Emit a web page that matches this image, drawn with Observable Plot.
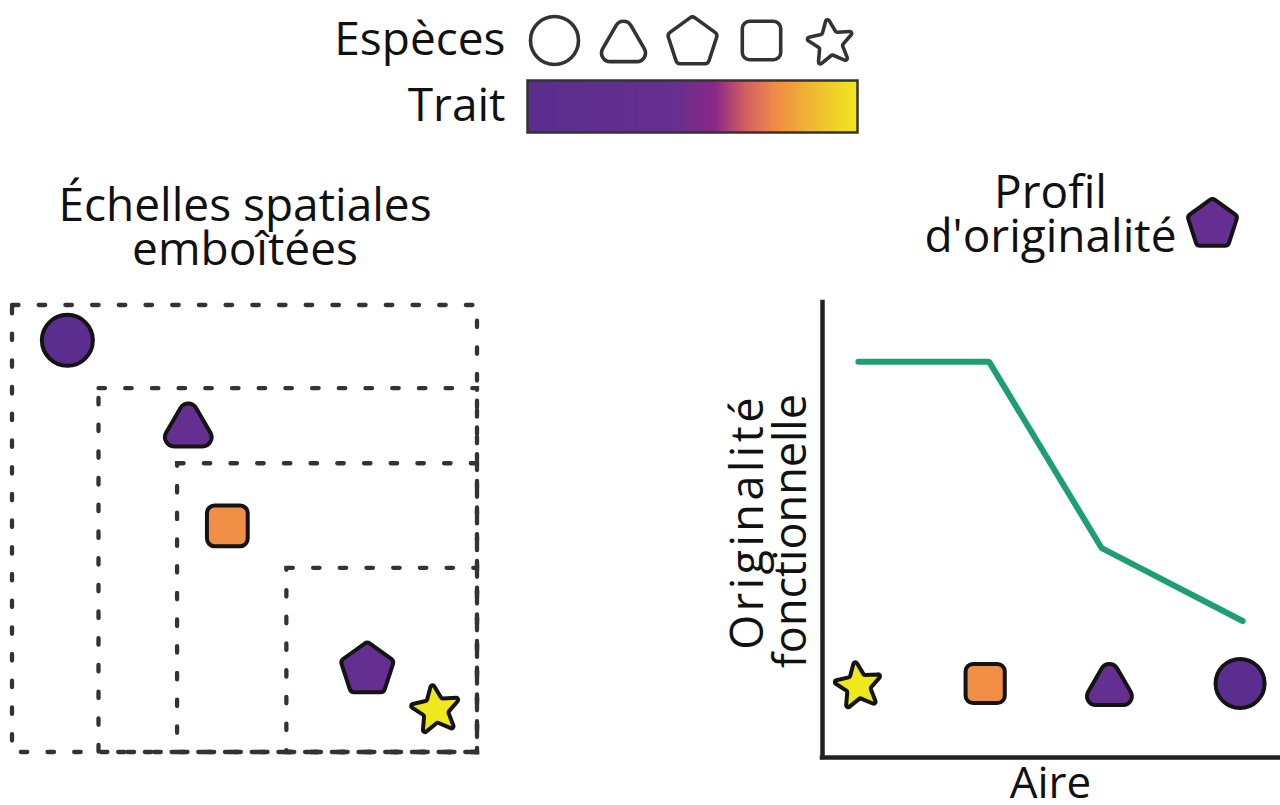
<!DOCTYPE html>
<html>
<head>
<meta charset="utf-8">
<script src="https://cdn.jsdelivr.net/npm/d3@7"></script>
<script src="https://cdn.jsdelivr.net/npm/@observablehq/plot@0.6"></script>
<style>
html, body { margin: 0; padding: 0; background: #fff; }
#chart { position: relative; width: 1280px; height: 805px; overflow: hidden; font-family: 'Open Sans', sans-serif; }
#chart > div { position: absolute; }
#chart svg { overflow: visible; }
</style>
</head>
<body>
<div id="chart"></div>
<script>
// ---------- Données ----------
const especes = ["cercle", "triangle", "pentagone", "carré", "étoile"];
const traitValeurs = [0.0, 0.38, 0.36, 0.76, 1.0];
const traitStops = [0, 0.45, 0.57, 0.66, 0.75, 0.88, 1];
const traitCouleurs = ["#5a2d8e", "#662f91", "#8a2887", "#cf5f62", "#f08a48", "#f1bd30", "#efe81d"];

// Position des espèces dans l'espace (unités 0–100)
const espaceX = [11.8, 37.8, 76.3, 46.2, 91.0];
const espaceY = [92.2, 73.5, 19.0, 50.7, 10.1];

// Échelles spatiales emboîtées (unités 0–100)
const echelleNom = ["échelle 1", "échelle 2", "échelle 3", "échelle 4"];
const echelleX1 = [0, 18.6, 35.5, 59.0];
const echelleX2 = [100, 100, 100, 100];
const echelleY1 = [0, 0, 0, 0];
const echelleY2 = [100, 81.4, 64.6, 41.2];

// Profil d'originalité de l'espèce focale
const especeFocale = "pentagone";
const profilEspeces = ["étoile", "carré", "triangle", "cercle"];
const profilAireEspece = [1, 1.99, 2.96, 3.98];
const profilAire = [1, 2.02, 2.9, 4.0];
const profilOriginalite = [0.87, 0.87, 0.46, 0.30];
const aireDomaine = [0.72, 4.28];
const originaliteDomaine = [0, 1];

const titreEspeces = "Espèces";
const titreTrait = "Trait";
const titreGauche = "Échelles spatiales\nemboîtées";
const titreDroite = "Profil\nd'originalité";
const labelY = "Originalité\nfonctionnelle";
const labelX = "Aire";

// ---------- Symboles personnalisés ----------
function polygone(n, R, rot, dy) {
  return Array.from({length: n}, (_, i) => {
    const a = rot + 2 * Math.PI * i / n;
    return [R * Math.sin(a), -R * Math.cos(a) + dy];
  });
}
function polygoneArrondi(ctx, pts, rad) {
  const n = pts.length;
  ctx.moveTo((pts[n - 1][0] + pts[0][0]) / 2, (pts[n - 1][1] + pts[0][1]) / 2);
  for (let i = 0; i < n; ++i) {
    const p = pts[i], q = pts[(i + 1) % n];
    ctx.arcTo(p[0], p[1], q[0], q[1], rad);
  }
  ctx.closePath();
}
const rayon = (size) => Math.sqrt(size / Math.PI);
const symCercle = {draw(ctx, size) { const r = rayon(size); ctx.moveTo(r, 0); ctx.arc(0, 0, r, 0, 2 * Math.PI); ctx.closePath(); }};
const symTriangle = {draw(ctx, size) { const r = rayon(size); polygoneArrondi(ctx, polygone(3, 1.36 * r, 0, 0.2 * r), 0.36 * r); }};
const symPentagone = {draw(ctx, size) { const r = rayon(size); polygoneArrondi(ctx, polygone(5, 1.1 * r, 0, 0.08 * r), 0.18 * r); }};
const symCarre = {draw(ctx, size) { const r = rayon(size), h = 0.8 * r; polygoneArrondi(ctx, [[-h, -h], [h, -h], [h, h], [-h, h]], 0.3 * r); }};
const symEtoile = {draw(ctx, size) {
  const r = rayon(size);
  const pts = Array.from({length: 10}, (_, i) => {
    const R = i % 2 ? 0.5 * r : 1.1 * r;
    const a = -0.14 + Math.PI * i / 5;
    return [R * Math.sin(a), -R * Math.cos(a) + 0.1 * r];
  });
  polygoneArrondi(ctx, pts, 0.08 * r);
}};
const symboles = [symCercle, symTriangle, symPentagone, symCarre, symEtoile];

const symbolScale = {domain: especes, range: symboles};
const colorScale = {type: "linear", domain: traitStops, range: traitCouleurs, interpolate: "rgb"};
const traitDe = new Map(especes.map((e, i) => [e, traitValeurs[i]]));
const police = "'Open Sans', 'Noto Sans', sans-serif";
const style = {fontFamily: police, background: "transparent", overflow: "visible"};
const encre = "#141414";

const chart = document.getElementById("chart");
function place(svg, left, top) {
  const d = document.createElement("div");
  d.style.left = left + "px";
  d.style.top = top + "px";
  d.appendChild(svg);
  chart.appendChild(d);
  return svg;
}

// ---------- Légende espèces ----------
place(Plot.plot({
  width: 560, height: 80, marginTop: 0, marginBottom: 0, marginLeft: 233, marginRight: 50,
  style,
  x: {type: "point", domain: especes, padding: 0, axis: null},
  symbol: symbolScale,
  marks: [
    Plot.dot(especes, {x: d => d, symbol: d => d, r: 24, fill: "white", stroke: "#333", strokeWidth: 3.6, strokeLinejoin: "round"}),
    Plot.text([titreEspeces], {frameAnchor: "left", textAnchor: "end", dx: -48, fontSize: 46, fill: "#111"})
  ]
}), 320, 0);

// ---------- Légende trait (rampe) ----------
const pas = 1 / 330;
const rampe = Array.from({length: 330}, (_, i) => i * pas);
place(Plot.plot({
  width: 560, height: 72, marginTop: 10, marginBottom: 10, marginLeft: 207, marginRight: 23,
  style,
  x: {domain: [0, 1], axis: null},
  color: colorScale,
  marks: [
    Plot.rect(rampe, {x1: d => d, x2: d => d + pas * 1.5, fill: d => d + pas / 2, shapeRendering: "crispEdges"}),
    Plot.frame({stroke: "#333", strokeWidth: 2.5}),
    Plot.text([titreTrait], {frameAnchor: "left", textAnchor: "end", dx: -22, fontSize: 46, fill: "#111"})
  ]
}), 320, 70);

// ---------- Panneau gauche : échelles emboîtées ----------
const echelles = echelleNom.map((nom, i) => ({nom, x1: echelleX1[i], x2: echelleX2[i], y1: echelleY1[i], y2: echelleY2[i]}));
const positions = especes.map((e, i) => ({espece: e, x: espaceX[i], y: espaceY[i], trait: traitValeurs[i]}));
place(Plot.plot({
  width: 490, height: 645, marginLeft: 12, marginRight: 13, marginTop: 145, marginBottom: 53,
  style,
  x: {domain: [0, 100], axis: null},
  y: {domain: [0, 100], axis: null},
  color: colorScale,
  symbol: symbolScale,
  marks: [
    Plot.rect(echelles, {x1: "x1", x2: "x2", y1: "y1", y2: "y2", fill: "none", stroke: "#333", strokeWidth: 4.3, strokeDasharray: "6.5,20.2", strokeLinecap: "round"}),
    Plot.dot(positions, {x: "x", y: "y", symbol: "espece", fill: "trait", r: 25.5, stroke: encre, strokeWidth: 4, strokeLinejoin: "round"}),
    Plot.text([titreGauche], {frameAnchor: "top", lineAnchor: "bottom", dy: -41, fontSize: 46, lineHeight: 0.95, fill: "#111"})
  ]
}), 0, 160);

// ---------- Panneau droit : profil d'originalité ----------
const profil = profilAire.map((a, i) => ({aire: a, originalite: profilOriginalite[i]}));
const profilPts = profilEspeces.map((e, i) => ({espece: e, aire: profilAireEspece[i], trait: traitDe.get(e)}));
const droite = place(Plot.plot({
  width: 580, height: 655, marginLeft: 122, marginRight: 2, marginTop: 152, marginBottom: 48,
  style,
  x: {domain: aireDomaine, axis: null},
  y: {domain: originaliteDomaine, axis: null},
  color: colorScale,
  symbol: symbolScale,
  marks: [
    Plot.ruleX([aireDomaine[0]], {stroke: "#222", strokeWidth: 4.5, strokeLinecap: "square"}),
    Plot.ruleY([originaliteDomaine[0]], {stroke: "#222", strokeWidth: 4.5, strokeLinecap: "square"}),
    Plot.line(profil, {x: "aire", y: "originalite", stroke: "#1f9e74", strokeWidth: 6, strokeLinecap: "round", strokeLinejoin: "miter"}),
    Plot.dot(profilPts, {x: "aire", frameAnchor: "bottom", dy: -74, symbol: "espece", fill: "trait", r: 24.5, stroke: encre, strokeWidth: 4, strokeLinejoin: "round"}),
    Plot.text([titreDroite], {frameAnchor: "top", lineAnchor: "bottom", dy: -51, fontSize: 46, lineHeight: 0.95, fill: "#111"}),
    Plot.dot([especeFocale], {frameAnchor: "top", dx: 162, dy: -80, symbol: d => d, fill: d => traitDe.get(d), r: 24, stroke: encre, strokeWidth: 4, strokeLinejoin: "round"}),
    Plot.text([labelY], {frameAnchor: "left", rotate: -90, textAnchor: "end", lineAnchor: "middle", dx: -52, dy: -136, fontSize: 45, lineHeight: 0.95, fill: "#111"}),
    Plot.text([labelX], {frameAnchor: "bottom", lineAnchor: "top", dy: 9, fontSize: 44, fill: "#111"})
  ]
}), 700, 150);
// léger espacement des lettres de la première ligne du titre d'axe, comme dans la figure d'origine
droite.querySelectorAll("tspan").forEach(t => { if (t.textContent === "Originalité") t.setAttribute("letter-spacing", "3.5"); });
</script>
</body>
</html>
